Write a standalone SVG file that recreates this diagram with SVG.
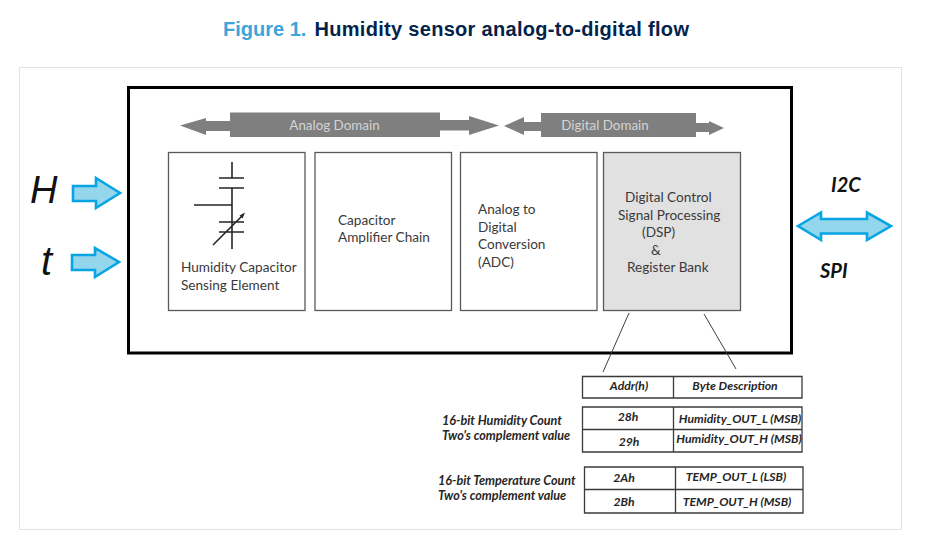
<svg xmlns="http://www.w3.org/2000/svg" width="940" height="553" viewBox="0 0 940 553">
<style>
text{font-family:Lato,"Liberation Sans",sans-serif;fill:#3a3a3a;font-size:13.6px}
.box{fill:#fff;stroke:#595959;stroke-width:1.3}
.ar{fill:#94d6ec;stroke:#08a5e4;stroke-width:2.6}
.dom{fill:#7f7f7f}
.dl{fill:#d4d4d4;font-size:13.4px}
.b{font-weight:700;font-style:italic;fill:#262626;font-size:12.2px}
.n{font-size:12.6px}
.sig{font-family:"Liberation Sans",sans-serif;font-style:italic;fill:#111}
.bus{font-family:Lato,sans-serif;font-size:20px;font-weight:700;font-style:italic;fill:#111}
.ln{stroke:#404040;stroke-width:1;fill:none}
.sym{stroke:#262626;stroke-width:1.6;fill:none}
.cell{fill:none;stroke:#3a3a3a;stroke-width:1.3}
</style>
<rect width="940" height="553" fill="#fff"/>
<text x="223" y="36" style="font-family:'Liberation Sans',Arial,sans-serif;font-size:20px;font-weight:700;fill:#3ca5d9">Figure 1.</text>
<text x="314.500" y="36" style="font-family:'Liberation Sans',Arial,sans-serif;font-size:20px;font-weight:700;fill:#03234b;letter-spacing:.3px">Humidity sensor analog-to-digital flow</text>
<rect x="19.500" y="67.500" width="882" height="462" fill="#fff" stroke="#e3e3e3"/>
<rect id="frame" x="128.500" y="87.500" width="663" height="265.500" fill="#fff" stroke="#000" stroke-width="3"/>

<g id="analog-domain">
<path class="dom" d="M180 125.500L206 118V121H230V112.500H440V120H469V116L499 125.500L469 135V130.500H440V137H230V131H206V135Z"/>
<text class="dl" x="334.500" y="130" text-anchor="middle">Analog Domain</text>
</g>
<g id="digital-domain">
<path class="dom" d="M504 126L524 117V122H541V113H696V123H709V121L724 128L709 135V132H696V137H541V131H524V135Z"/>
<text class="dl" x="605" y="129.500" text-anchor="middle">Digital Domain</text>
</g>

<g id="humidity-element">
<rect class="box" x="168.500" y="152.500" width="136.500" height="158"/>
<path class="sym" d="M232 162V178M219 178H244M219 188H244M232 188V249M194 205H232M219 222H244M219 232H244M213 245L243 215"/>
<path d="M245 212.500L239.500 215.500L242.500 218.500Z" fill="#262626"/>
<text x="181" y="272">Humidity Capacitor</text>
<text x="181" y="290">Sensing Element</text>
</g>
<g id="amplifier-chain">
<rect class="box" x="315" y="152.500" width="136.500" height="158"/>
<text x="338" y="225">Capacitor</text>
<text x="338" y="242">Amplifier Chain</text>
</g>
<g id="adc">
<rect class="box" x="460.500" y="152.500" width="136.500" height="158"/>
<text x="478" y="214">Analog to</text>
<text x="478" y="232">Digital</text>
<text x="478" y="249">Conversion</text>
<text x="478" y="267">(ADC)</text>
</g>
<g id="dsp">
<rect class="box" x="603.500" y="152.500" width="137" height="158" style="fill:#e1e1e1"/>
<text x="625" y="202">Digital Control</text>
<text x="618" y="220">Signal Processing</text>
<text x="642" y="237">(DSP)</text>
<text x="651" y="255">&amp;</text>
<text x="627" y="272">Register Bank</text>
</g>

<g id="input-h">
<text class="sig" x="30" y="203" style="font-size:38px">H</text>
<path class="ar" d="M73 186H96V178L120 193L96 208V201H73Z"/>
</g>
<g id="input-t">
<text class="sig" x="41" y="275" style="font-size:40px">t</text>
<path class="ar" d="M72 255H95V248L119 262L95 277V270H72Z"/>
</g>
<g id="bus">
<path class="ar" d="M798 226L821 212.500V219H867V212.500L891 226L867 240V233.500H821V240Z"/>
<text class="bus" x="831" y="192">I2C</text>
<text class="bus" x="820" y="278">SPI</text>
</g>

<g id="connectors">
<path class="ln" d="M629 313L603 372M704 314L736 369"/>
</g>

<g id="register-header">
<path class="cell" d="M582.500 376.500H802V398H582.500ZM673.500 376.500V398"/>
<text class="b" x="629" y="390" text-anchor="middle">Addr(h)</text>
<text class="b" x="735" y="390" text-anchor="middle">Byte Description</text>
</g>
<g id="humidity-registers">
<path class="cell" d="M582.500 407H802V452H582.500ZM582.500 429.500H802M673.500 407V452"/>
<text class="b" x="628" y="421" text-anchor="middle">28h</text>
<text class="b" x="629" y="446" text-anchor="middle">29h</text>
<text class="b" x="740" y="423" text-anchor="middle">Humidity_OUT_L (MSB)</text>
<text class="b" x="739" y="443" text-anchor="middle">Humidity_OUT_H (MSB)</text>
<text class="b n" x="442" y="425">16-bit Humidity Count</text>
<text class="b n" x="442" y="440">Two's complement value</text>
</g>
<g id="temperature-registers">
<path class="cell" d="M584.500 467H803V513H584.500ZM584.500 489.500H803M675.500 467V513"/>
<text class="b" x="624" y="482" text-anchor="middle">2Ah</text>
<text class="b" x="624" y="506" text-anchor="middle">2Bh</text>
<text class="b" x="736" y="481" text-anchor="middle">TEMP_OUT_L (LSB)</text>
<text class="b" x="737" y="506" text-anchor="middle">TEMP_OUT_H (MSB)</text>
<text class="b n" x="438" y="485">16-bit Temperature Count</text>
<text class="b n" x="438" y="500">Two's complement value</text>
</g>
</svg>
